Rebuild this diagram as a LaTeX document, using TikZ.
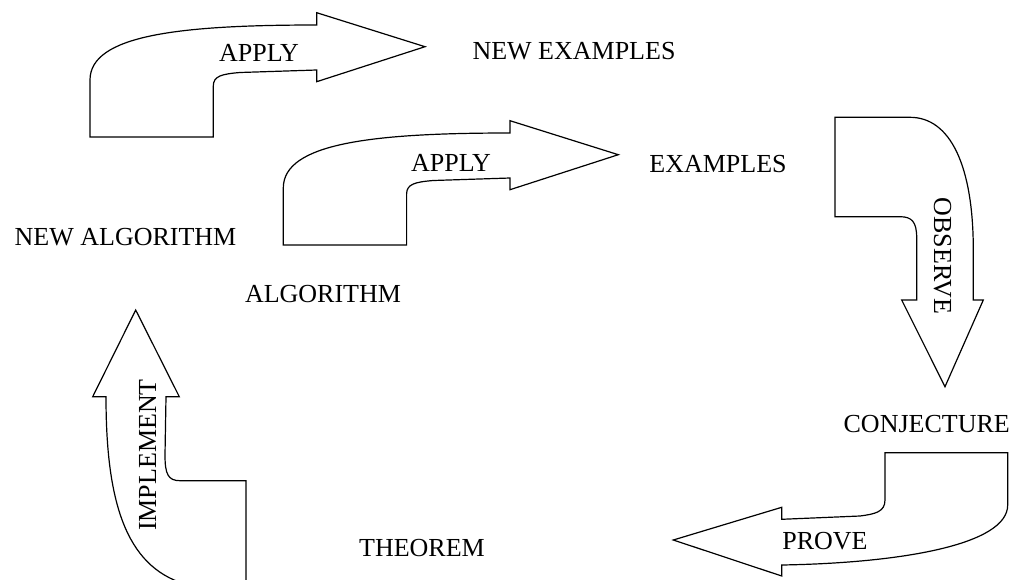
\documentclass[tikz,border=0pt]{standalone}
\usepackage{fontspec}
\setmainfont{Liberation Serif}
\begin{document}
\begin{tikzpicture}[x=1pt,y=-1pt,
  lbl/.style={inner sep=0pt,font=\fontsize{26}{30}\selectfont},
  bigarrow/.style={draw=black,fill=white,line width=1.2pt,line join=miter}]
\path[use as bounding box,clip] (0,0) rectangle (1013,579);
% APPLY arrows (same shape)
\foreach \dx/\dy in {0/0,193.3/108}{
\begin{scope}[shift={(\dx,\dy)}]
\draw[bigarrow] (90,137) -- (90,80) .. controls (90,35) and (180,25) .. (316.7,25)
  -- (316.7,12.7) -- (425,46.7) -- (316.7,81.7) -- (316.7,70) -- (240,72.5)
  .. controls (222,74) and (213.3,76) .. (213.3,86) -- (213.3,137) -- cycle;
\end{scope}}
% OBSERVE arrow
\draw[bigarrow] (835,117.3) -- (910,117.3) .. controls (950,117.3) and (973.3,165) .. (973.3,250)
  -- (973.3,300) -- (983.3,300) -- (945,386.7) -- (901.7,300) -- (916.7,300) -- (916.7,238)
  .. controls (916.7,222) and (912,216.7) .. (900,216.7) -- (835,216.7) -- cycle;
% PROVE arrow
\draw[bigarrow] (885,452.7) -- (1007.7,452.7) -- (1007.7,505)
  .. controls (1007.7,545) and (900,563) .. (781.7,565) -- (781.7,576) -- (673.3,540)
  -- (781.7,507.3) -- (781.7,519.3) -- (860,516) .. controls (875,514) and (885,512) .. (885,500) -- cycle;
% IMPLEMENT arrow
\draw[bigarrow] (135.7,310) -- (179.3,396.7) -- (166,396.7) -- (165,455)
  .. controls (165,474) and (168,480.7) .. (180,480.7) -- (246,480.7) -- (246,584) -- (185,584)
  .. controls (125,566) and (106,500) .. (106,396.7) -- (92.7,396.7) -- cycle;
% labels
\node[lbl] (apply1) at (259,53) {APPLY};
\node[lbl] (apply2) at (451,163) {APPLY};
\node[lbl,rotate=-90] (observe) at (942.5,256) {OBSERVE};
\node[lbl] (prove) at (825,541) {PROVE};
\node[lbl,rotate=90] (implement) at (147.5,455) {IMPLEMENT};
\node[lbl] (newex) at (574,51.5) {NEW EXAMPLES};
\node[lbl] (ex) at (718,164) {EXAMPLES};
\node[lbl] (conj) at (926.7,424) {CONJECTURE};
\node[lbl] (thm) at (422,548) {THEOREM};
\node[lbl] (newalg) at (125.5,237) {NEW ALGORITHM};
\node[lbl] (alg) at (323,294) {ALGORITHM};
\end{tikzpicture}
\end{document}
